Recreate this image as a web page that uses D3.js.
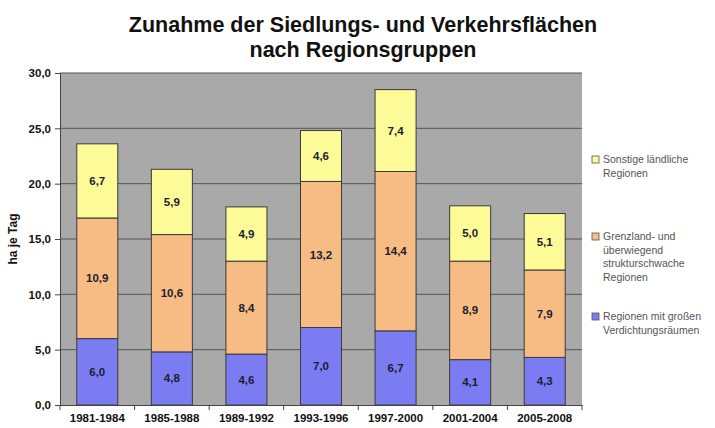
<!DOCTYPE html>
<html lang="de">
<head>
  <meta charset="UTF-8">
  <title>Zunahme der Siedlungs- und Verkehrsflächen</title>
  <style>
    body { margin: 0; background: #fff; }
    text { font-family: "Liberation Sans", Arial, sans-serif; }
  </style>
</head>
<body>
<svg width="715" height="428"></svg>

<script src="https://cdn.jsdelivr.net/npm/d3@7/dist/d3.min.js"></script>
<script>
  // Daten
  var categories = ['1981-1984', '1985-1988', '1989-1992', '1993-1996', '1997-2000', '2001-2004', '2005-2008'];
  var verdichtung = [6.0, 4.8, 4.6, 7.0, 6.7, 4.1, 4.3];
  var grenzland = [10.9, 10.6, 8.4, 13.2, 14.4, 8.9, 7.9];
  var laendlich = [6.7, 5.9, 4.9, 4.6, 7.4, 5.0, 5.1];
  var yTicks = [0, 5, 10, 15, 20, 25, 30];

  var marge = {top: 73, bottom: 23, left: 60, right: 133};
  var svg = d3.select('svg'), width = +svg.attr('width'), height = +svg.attr('height');
  var innerW = width - marge.left - marge.right, innerH = height - marge.top - marge.bottom;
  var colors = ['#7c7cf2', '#f6bc84', '#fcfb98'];

  var rows = categories.map(function (c, i) {
    return {cat: c, v0: verdichtung[i], v1: grenzland[i], v2: laendlich[i]};
  });
  var stack = d3.stack().keys(['v0', 'v1', 'v2'])(rows);

  var xScale = d3.scaleBand().domain(categories).range([0, innerW]).paddingInner(0.45).paddingOuter(0.225);
  var yScale = d3.scaleLinear().domain([0, 30]).range([innerH, 0]);

  // Titel
  var title = svg.append('text').attr('x', 363).attr('text-anchor', 'middle')
    .style('font-size', '21.5px').style('font-weight', 'bold').attr('fill', '#111');
  title.append('tspan').attr('x', 363).attr('y', 32).text('Zunahme der Siedlungs- und Verkehrsflächen');
  title.append('tspan').attr('x', 363).attr('y', 57).text('nach Regionsgruppen');

  var g = svg.append('g').attr('transform', `translate(${marge.left}, ${marge.top})`);

  // Zeichenfläche
  g.append('rect').attr('width', innerW).attr('height', innerH).attr('fill', '#a9a9a9');

  // Gitternetz
  g.append('g').selectAll('line').data(yTicks.slice(1)).enter().append('line')
    .attr('x1', 0).attr('x2', innerW)
    .attr('y1', function (d) { return yScale(d); }).attr('y2', function (d) { return yScale(d); })
    .attr('stroke', '#555').attr('stroke-width', 1);

  // Balken
  var layers = g.selectAll('.layer').data(stack).enter().append('g').attr('class', 'layer')
    .attr('fill', function (d, i) { return colors[i]; });
  layers.selectAll('rect').data(function (d) { return d; }).enter().append('rect')
    .attr('x', function (d) { return xScale(d.data.cat); })
    .attr('y', function (d) { return yScale(d[1]); })
    .attr('width', xScale.bandwidth())
    .attr('height', function (d) { return yScale(d[0]) - yScale(d[1]); })
    .attr('stroke', '#3a3a3a').attr('stroke-width', 1);

  // Beschriftung der Segmente
  layers.selectAll('text').data(function (d) { return d; }).enter().append('text')
    .attr('x', function (d) { return xScale(d.data.cat) + xScale.bandwidth() / 2; })
    .attr('y', function (d) { return yScale((d[0] + d[1]) / 2); })
    .attr('dy', '0.35em').attr('text-anchor', 'middle')
    .style('font-size', '11.5px').style('font-weight', 'bold').attr('fill', '#1c1c30')
    .text(function (d) { return d3.format('.1f')(d[1] - d[0]).replace('.', ','); });

  // Achsen
  var yAxis = d3.axisLeft(yScale).tickValues(yTicks).tickSize(5).tickPadding(4)
    .tickFormat(function (d) { return d3.format('.1f')(d).replace('.', ','); });
  var ay = g.append('g').call(yAxis);
  ay.select('.domain').attr('stroke', '#444');
  ay.selectAll('line').attr('stroke', '#444');
  ay.selectAll('text').style('font-size', '11.5px').style('font-weight', 'bold').attr('fill', '#111')
    .style('font-family', '"Liberation Sans", Arial, sans-serif');

  var xAxis = d3.axisBottom(xScale).tickSize(0).tickPadding(9);
  var ax = g.append('g').attr('transform', `translate(0, ${innerH})`).call(xAxis);
  ax.select('.domain').attr('stroke', '#444');
  ax.selectAll('text').style('font-size', '11.5px').style('font-weight', 'bold').attr('fill', '#111')
    .style('font-family', '"Liberation Sans", Arial, sans-serif');
  // Trennstriche zwischen den Kategorien
  ax.selectAll('.sep').data(d3.range(categories.length + 1)).enter().append('line').attr('class', 'sep')
    .attr('x1', function (i) { return i * xScale.step(); }).attr('x2', function (i) { return i * xScale.step(); })
    .attr('y1', 0).attr('y2', 5).attr('stroke', '#444');

  // Achsentitel
  svg.append('text').attr('transform', `translate(17, ${marge.top + innerH / 2}) rotate(-90)`)
    .attr('text-anchor', 'middle').style('font-size', '12px').style('font-weight', 'bold').attr('fill', '#111')
    .text('ha je Tag');

  // Legende
  var legendY = [163, 240, 320];
  var legendLines = [['Sonstige ländliche', 'Regionen'],
    ['Grenzland- und', 'überwiegend', 'strukturschwache', 'Regionen'],
    ['Regionen mit großen', 'Verdichtungsräumen']];
  var legend = svg.append('g');
  [2, 1, 0].forEach(function (s, k) {
    var lg = legend.append('g').attr('transform', `translate(592, ${legendY[k]})`);
    lg.append('rect').attr('x', 0).attr('y', -7).attr('width', 7).attr('height', 7)
      .attr('fill', colors[s]).attr('stroke', '#555').attr('stroke-width', 0.8);
    var t = lg.append('text').style('font-size', '10.5px').attr('fill', '#555');
    legendLines[k].forEach(function (line, j) {
      t.append('tspan').attr('x', 11).attr('y', j * 13.5).text(line);
    });
  });
</script>
</body>
</html>
